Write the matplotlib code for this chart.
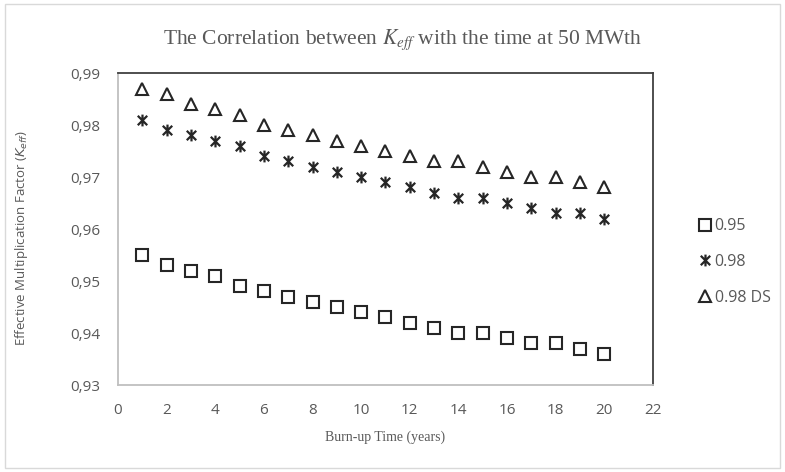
import matplotlib.pyplot as plt
from matplotlib.path import Path
from matplotlib.patches import Rectangle
from matplotlib.ticker import FuncFormatter

# waktu burn-up (tahun) dan nilai Keff tiap skenario
tahun = list(range(1, 21))
keff_095 = [0.955, 0.953, 0.952, 0.951, 0.949, 0.948, 0.947, 0.946, 0.945, 0.944,
            0.943, 0.942, 0.941, 0.940, 0.940, 0.939, 0.938, 0.938, 0.937, 0.936]
keff_098 = [0.981, 0.979, 0.978, 0.977, 0.976, 0.974, 0.973, 0.972, 0.971, 0.970,
            0.969, 0.968, 0.967, 0.966, 0.966, 0.965, 0.964, 0.963, 0.963, 0.962]
keff_098ds = [0.987, 0.986, 0.984, 0.983, 0.982, 0.980, 0.979, 0.978, 0.977, 0.976,
              0.975, 0.974, 0.973, 0.973, 0.972, 0.971, 0.970, 0.970, 0.969, 0.968]
label_seri = ['0.95', '0.98', '0.98 DS']

# marker bintang ala Excel: garis vertikal + X
star = Path([(0, -1), (0, 1), (-0.8, -0.8), (0.8, 0.8), (-0.8, 0.8), (0.8, -0.8)],
            [Path.MOVETO, Path.LINETO, Path.MOVETO, Path.LINETO, Path.MOVETO, Path.LINETO])

fig = plt.figure(figsize=(7.85, 4.72), dpi=100)
ax = fig.add_axes([0.1503, 0.1843, 0.6815, 0.661])

ax.plot(tahun, keff_095, linestyle='none', marker='s', markersize=8,
        markerfacecolor='white', markeredgecolor='#262626', markeredgewidth=1.5, label=label_seri[0])
ax.plot(tahun, keff_098, linestyle='none', marker=star, markersize=8.5,
        color='#262626', markeredgewidth=1.6, label=label_seri[1])
ax.plot(tahun, keff_098ds, linestyle='none', marker='^', markersize=9,
        markerfacecolor='white', markeredgecolor='#262626', markeredgewidth=1.5, label=label_seri[2])

ax.set_xlim(0, 22)
ax.set_ylim(0.93, 0.99)
ax.set_xticks(range(0, 23, 2))
ax.set_yticks([0.93, 0.94, 0.95, 0.96, 0.97, 0.98, 0.99])
ax.yaxis.set_major_formatter(FuncFormatter(lambda v, p: f'{v:.2f}'.replace('.', ',')))
ax.tick_params(length=0, labelsize=11, colors='#595959', pad=13)
for lab in ax.get_xticklabels() + ax.get_yticklabels():
    lab.set_family('Open Sans')

ax.spines['left'].set_color('#bfbfbf')
ax.spines['bottom'].set_color('#bfbfbf')
ax.spines['top'].set_color('#404040')
ax.spines['right'].set_color('#404040')
for s in ax.spines.values():
    s.set_linewidth(1.3)

fig.text(0.513, 0.915, r'The Correlation between $K_{eff}$ with the time at 50 MWth',
         ha='center', va='center', fontsize=15.5, color='#595959',
         family='Liberation Serif', math_fontfamily='stix')
ax.set_xlabel('Burn-up Time (years)', family='Liberation Serif', fontsize=10,
              color='#595959', labelpad=9)
fig.text(0.027, 0.495, r'Effective Multiplication Factor ($K_{eff}$)', rotation=90,
         ha='center', va='center', fontsize=9.5, color='#595959', family='Open Sans')

leg = ax.legend(loc='center left', bbox_to_anchor=(1.06, 0.394), frameon=False,
                handlelength=0.7, handletextpad=0.25, labelspacing=1.25,
                prop={'family': 'Open Sans', 'size': 11.5})
for t in leg.get_texts():
    t.set_color('#595959')

fig.patches.append(Rectangle((0.006, 0.008), 0.988, 0.984, transform=fig.transFigure,
                             fill=False, edgecolor='#d9d9d9', linewidth=1))

fig.savefig('out.png', dpi=100)
